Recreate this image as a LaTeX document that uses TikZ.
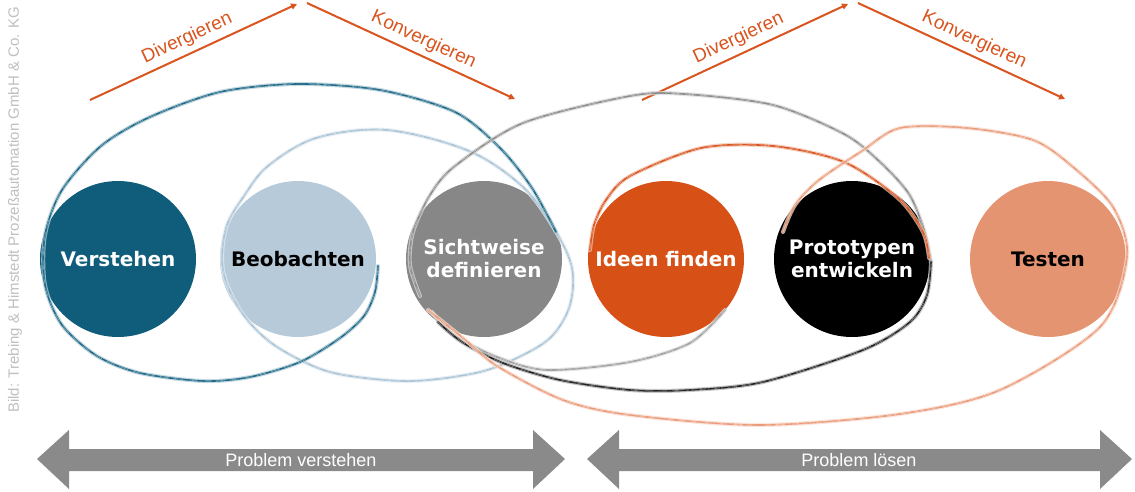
\documentclass[tikz,border=0pt]{standalone}
\usepackage{fontspec}
\setmainfont{Liberation Sans}
\newfontfamily\circfont{DejaVu Sans}
\usetikzlibrary{arrows.meta}
\definecolor{cVer}{HTML}{0F5D7B}
\definecolor{cBeo}{HTML}{B7CAD9}
\definecolor{cSic}{HTML}{878787}
\definecolor{cIde}{HTML}{D75016}
\definecolor{cPro}{HTML}{000000}
\definecolor{cTes}{HTML}{E59471}
\definecolor{cArrow}{HTML}{D9541E}
\definecolor{cBar}{HTML}{8A8A8B}
\definecolor{lTeal}{HTML}{1F6A88}
\definecolor{lBlue}{HTML}{A9C3D5}
\definecolor{lGray}{HTML}{8C8C8C}
\definecolor{lGrayL}{HTML}{A0A0A0}
\definecolor{lBlack}{HTML}{222222}
\definecolor{lOrange}{HTML}{D9541E}
\definecolor{lPeach}{HTML}{EA9A78}
\begin{document}
\begin{tikzpicture}[x=1pt,y=-1pt,
  phase/.style={circle, minimum size=156pt, inner sep=0pt, align=center,
    font=\circfont\bfseries\fontsize{20}{23}\selectfont},
  lasso/.style={line width=1.6pt, draw=#1, line cap=round, line join=round,
    preaction={draw=#1!35!white, line width=4pt, opacity=.75, line cap=round},
    postaction={draw=white, line width=.35pt, opacity=.55, dash pattern=on 9pt off 5pt}},
  oarrow/.style={draw=cArrow, line width=2pt, -{Triangle[length=6pt,width=6pt]}},
  olabel/.style={font=\fontsize{19}{19}\selectfont, text=cArrow, sloped, above=2pt},
  barlabel/.style={font=\fontsize{18}{18}\selectfont, text=white}]
\useasboundingbox (0,0) rectangle (1135,492);

% credit
\node[rotate=90, text=gray!50, font=\fontsize{15}{15}\selectfont] (credit) at (15,210)
  {Bild: Trebing \& Himstedt Prozeßautomation GmbH \& Co. KG};

% top arrows
\coordinate (a1s) at (90,100);  \coordinate (a1e) at (297,4);
\coordinate (a2s) at (307,3);   \coordinate (a2e) at (515,99);
\coordinate (a3s) at (642,100); \coordinate (a3e) at (848,4);
\coordinate (a4s) at (858,3);   \coordinate (a4e) at (1065,99);
\draw[oarrow] (a1s) -- (a1e) node[olabel, pos=.5] (div1) {Divergieren};
\draw[oarrow] (a2s) -- (a2e) node[olabel, pos=.53] (kon1) {Konvergieren};
\draw[oarrow] (a3s) -- (a3e) node[olabel, pos=.5] (div2) {Divergieren};
\draw[oarrow] (a4s) -- (a4e) node[olabel, pos=.53] (kon2) {Konvergieren};

% phase circles
\node[phase, fill=cVer, text=white] (ver) at (118,259) {Verstehen};
\node[phase, fill=cBeo, text=black] (beo) at (298,259) {Beobachten};
\node[phase, fill=cSic, text=white] (sic) at (484,259) {Sichtweise\\definieren};
\node[phase, fill=cIde, text=white] (ide) at (666,259) {Ideen finden};
\node[phase, fill=cPro, text=white] (pro) at (852,259) {Prototypen\\entwickeln};
\node[phase, fill=cTes, text=black] (tes) at (1048,259) {Testen};

% lasso loops
\draw[lasso=lBlue] plot[smooth cycle, tension=.55] coordinates {
  (387,130) (469,151) (523,187) (555,230) (572,268) (570,305) (553,335)
  (525,354) (480,372) (413,381) (350,376) (313,366) (270,342) (240,310)
  (223,270) (226,228) (244,196) (268,166) (316,138)};
\draw[lasso=lTeal] plot[smooth, tension=.5] coordinates {
  (378,266) (375,292) (364,316) (340,338) (300,362) (250,377) (203,381)
  (140,373) (97,356) (62,325) (45,285) (45,235) (62,190) (101,146)
  (150,117) (220,92) (297,84) (380,90) (455,112) (500,148) (532,188) (556,232)};
\draw[lasso=lGray] plot[smooth, tension=.5] coordinates {
  (420,296) (410,265) (413,232) (430,195) (455,166) (523,123) (630,96)
  (684,94) (773,105) (844,134) (880,162) (909,194) (924,230) (931,262)};
\draw[lasso=lGrayL] plot[smooth, tension=.5] coordinates {
  (432,312) (452,334) (497,357) (547,370) (630,362) (690,343) (725,310)};
\draw[lasso=lBlack] plot[smooth, tension=.5] coordinates {
  (931,262) (927,295) (910,322) (863,350) (763,382) (690,390) (630,390)
  (560,380) (503,363) (462,342) (438,322)};
\draw[lasso=lOrange] plot[smooth, tension=.5] coordinates {
  (590,250) (594,225) (606,200) (630,176) (701,148) (773,146) (844,162)
  (898,198) (923,232) (929,258)};
\draw[lasso=lPeach] plot[smooth, tension=.5] coordinates {
  (428,310) (463,338) (497,366) (563,400) (630,415) (760,425) (900,414)
  (1000,390) (1100,327) (1127,257) (1113,207) (1073,167) (1033,140)
  (967,128) (900,128) (862,151) (819,180) (795,205) (783,232)};

% bottom double arrows
\fill[cBar] (37,459) -- (69,430) -- (69,449) -- (533,449) -- (533,430) -- (565,459)
  -- (533,489) -- (533,471) -- (69,471) -- (69,489) -- cycle;
\node[barlabel] (pv) at (301,460) {Problem verstehen};
\fill[cBar] (587,459) -- (619,430) -- (619,449) -- (1100,449) -- (1100,430) -- (1132,459)
  -- (1100,489) -- (1100,471) -- (619,471) -- (619,489) -- cycle;
\node[barlabel] (pl) at (859,460) {Problem lösen};
\end{tikzpicture}
\end{document}
